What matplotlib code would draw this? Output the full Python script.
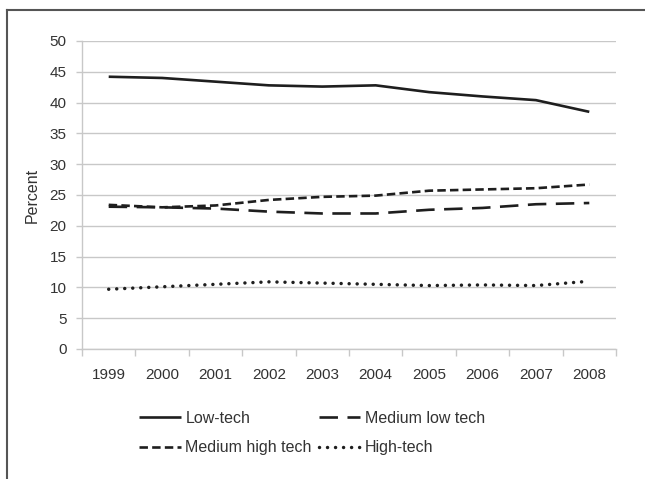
import matplotlib.pyplot as plt
from matplotlib.lines import Line2D
from matplotlib.ticker import MultipleLocator, FixedLocator

years = ['1999', '2000', '2001', '2002', '2003', '2004', '2005', '2006', '2007', '2008']
low_tech = [44.2, 44.0, 43.4, 42.8, 42.6, 42.8, 41.7, 41.0, 40.4, 38.5]
medium_low = [23.1, 23.0, 22.8, 22.3, 22.0, 22.0, 22.6, 22.9, 23.5, 23.7]
medium_high = [23.4, 23.0, 23.3, 24.2, 24.7, 24.9, 25.7, 25.9, 26.1, 26.7]
high_tech = [9.7, 10.1, 10.5, 10.9, 10.7, 10.5, 10.3, 10.4, 10.3, 11.0]

plt.rcParams['font.family'] = ['Liberation Sans', 'DejaVu Sans']
TXT = '#333333'
INK = '#1e1e1e'
GRID = '#c8c8c8'

fig = plt.figure(figsize=(6.45, 4.79), dpi=100)
ax = fig.add_axes([82 / 645, 1 - 349 / 479, 534 / 645, 308 / 479])

x = list(range(len(years)))
l1, = ax.plot(x, low_tech, color=INK, lw=1.9, solid_capstyle='butt')
l2, = ax.plot(x, medium_low, color=INK, lw=1.9, linestyle=(0, (7, 3.6)), dash_capstyle='butt')
l3, = ax.plot(x, medium_high, color=INK, lw=1.9, linestyle=(0, (3.2, 1.6)), dash_capstyle='butt')
l4, = ax.plot(x, high_tech, color=INK, lw=2.5, linestyle=(0, (0.01, 2.3)), dash_capstyle='round')

ax.set_xlim(-0.5, len(years) - 0.5)
ax.set_ylim(0, 50)
ax.yaxis.set_major_locator(MultipleLocator(5))
ax.grid(axis='y', color=GRID, lw=1)
ax.set_axisbelow(True)

ax.set_xticks(x)
ax.set_xticklabels(years)
ax.xaxis.set_minor_locator(FixedLocator([i - 0.5 for i in range(len(years) + 1)]))
ax.tick_params(axis='x', which='major', length=0, pad=14, labelsize=11, labelcolor=TXT)
ax.tick_params(axis='x', which='minor', length=5, color=GRID, width=1)
ax.tick_params(axis='y', length=4, color=GRID, width=1, labelsize=11, labelcolor=TXT, pad=7)

for side in ['top', 'right']:
    ax.spines[side].set_visible(False)
for side in ['left', 'bottom']:
    ax.spines[side].set_color(GRID)
    ax.spines[side].set_linewidth(1)

ax.set_ylabel('Percent', fontsize=11.5, color=TXT, labelpad=7)

fig.legend([l1, l3, l2, l4], ['Low-tech', 'Medium high tech', 'Medium low tech', 'High-tech'],
           ncol=2, frameon=False, loc='upper left', bbox_to_anchor=(139 / 645, 1 - 411 / 479),
           borderpad=0, borderaxespad=0, handlelength=2.6, handletextpad=0.3,
           columnspacing=0.45, labelspacing=0.9, fontsize=11.5, labelcolor=TXT)

# outer frame (only top and left edges visible in the crop)
fig.add_artist(Line2D([7 / 645, 7 / 645], [0, 1 - 10 / 479], color='#555555', lw=1.5,
                      transform=fig.transFigure))
fig.add_artist(Line2D([7 / 645, 1], [1 - 10 / 479, 1 - 10 / 479], color='#555555', lw=1.5,
                      transform=fig.transFigure))

fig.savefig('out.png', dpi=100)
